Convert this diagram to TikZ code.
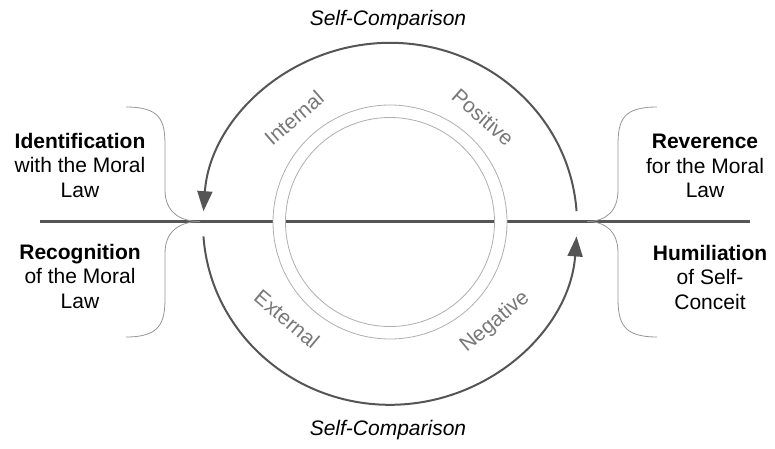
\documentclass[tikz,border=0pt]{standalone}
\usepackage{fontspec}
\setmainfont{Liberation Sans}
\usetikzlibrary{arrows.meta,positioning,calc}
\definecolor{ArcGray}{RGB}{85,85,85}
\definecolor{RingGray}{RGB}{175,175,175}
\definecolor{LabelGray}{RGB}{120,120,120}
\definecolor{BraceGray}{RGB}{150,150,150}

\begin{document}
\begin{tikzpicture}[x=1pt, y=-1pt, every node/.style={font=\fontsize{21}{24.5}\selectfont, align=center, inner sep=0pt}]
\tikzset{
  cycle arc/.style={ArcGray, line width=2pt, -{Triangle[length=20pt,width=15pt]}},
  gray label/.style={text=LabelGray},
  brace line/.style={BraceGray, line width=0.8pt},
}
\useasboundingbox (0,0) rectangle (775,448);
\coordinate (c) at (390,223.8);
\coordinate (ring) at (390,222);
\coordinate (lend) at (40,221.5);
\coordinate (rend) at (750,221.5);
\coordinate (ltip) at (200,221.5);
\coordinate (rtip) at (587,221.5);

% axis and ring
\draw[ArcGray, line width=2.2pt] (lend) -- (rend);
\draw[RingGray, line width=0.8pt, fill=white, even odd rule] (ring) circle[radius=117] (ring) circle[radius=104.5];

% the two halves of the cycle
\draw[cycle arc] (c) ++(-4:187 and 181) arc[start angle=-4, end angle=-176, x radius=187, y radius=181];
\draw[cycle arc] (c) ++(176:187 and 181) arc[start angle=176, end angle=4, x radius=187, y radius=181];

\node[font=\fontsize{21}{24.5}\selectfont\itshape] (topcmp) at (388,20) {Self-Comparison};
\node[font=\fontsize{21}{24.5}\selectfont\itshape] (botcmp) at (388,430) {Self-Comparison};

\node[gray label, rotate=41] (internal) at (294,118) {Internal};
\node[gray label, rotate=-41] (positive) at (483,117) {Positive};
\node[gray label, rotate=-40] (external) at (287,319) {External};
\node[gray label, rotate=40] (negative) at (495,322) {Negative};

% braces
\draw[brace line] (126,107) .. controls (160,107) and (165,120) .. (165,145) -- (165,190) .. controls (165,212) and (180,221.5) .. (ltip);
\draw[brace line] (ltip) .. controls (180,221.5) and (165,231) .. (165,253) -- (165,298) .. controls (165,323) and (160,337) .. (126,337);
\draw[brace line] (657,107) .. controls (623,107) and (618,120) .. (618,145) -- (618,190) .. controls (618,212) and (605,221.5) .. (rtip);
\draw[brace line] (rtip) .. controls (605,221.5) and (618,231) .. (618,253) -- (618,298) .. controls (618,323) and (623,337) .. (657,337);

\node (ident) at (80,165) {\textbf{Identification}\\with the Moral\\Law};
\node (recog) at (80,276) {\textbf{Recognition}\\of the Moral\\Law};
\node (rever) at (705,166) {\textbf{Reverence}\\for the Moral\\Law};
\node (humil) at (710,277) {\textbf{Humiliation}\\of Self-\\Conceit};
\end{tikzpicture}
\end{document}
